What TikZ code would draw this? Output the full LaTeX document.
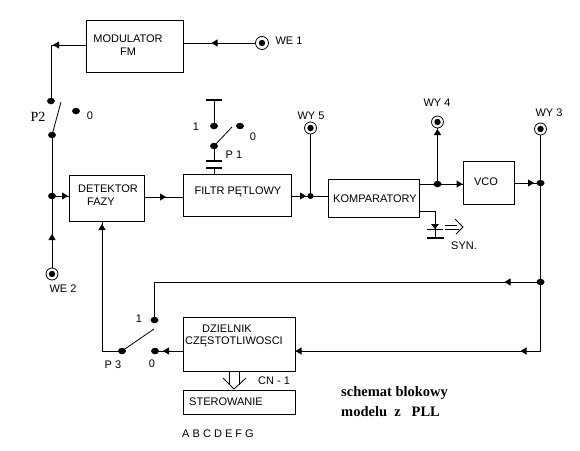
\documentclass[tikz,border=0pt]{standalone}
\usepackage{fontspec}
\setmainfont{Liberation Sans}
\newfontfamily\serifbold{Liberation Serif}[Scale=1]
\usetikzlibrary{arrows.meta,decorations.markings,shapes.geometric,calc}
\tikzset{
  wire/.style={line width=1pt,line cap=butt},
  thinw/.style={line width=0.8pt},
  box/.style={draw,line width=1pt,rectangle,inner sep=0pt,outer sep=0pt},
  txt/.style={inner sep=0pt,font=\fontsize{11}{12}\selectfont},
  captxt/.style={inner sep=0pt,anchor=west,font=\serifbold\bfseries\fontsize{14.5}{16}\selectfont},
  dot/.style={ellipse,fill=black,inner sep=0pt,outer sep=0pt,minimum width=8pt,minimum height=6.5pt},
  jack/.style={circle,draw,line width=0.8pt,inner sep=0pt,outer sep=0pt,minimum size=12pt,
    path picture={\fill (path picture bounding box.center) circle (3.2pt);}},
  bar/.style={line width=2.2pt},
  tipat/.style={postaction={decorate,decoration={markings,
    mark=at position #1 with {\arrow{Triangle[length=6pt,width=7pt]}}}}},
}
\begin{document}
\begin{tikzpicture}[x=1pt,y=-1pt]
\useasboundingbox (0,0) rectangle (580,450);
\fill[white] (0,0) rectangle (580,450);
% boxes
\node[box,minimum width=97pt,minimum height=52pt] (mod) at (134.5,46) {};
\node[box,minimum width=75pt,minimum height=46pt] (det) at (106.5,198) {};
\node[box,minimum width=108pt,minimum height=42pt] (fil) at (237,195) {};
\node[box,minimum width=91pt,minimum height=38pt] (kom) at (373.5,198) {};
\node[box,minimum width=51pt,minimum height=43pt] (vco) at (488.5,182.5) {};
\node[box,minimum width=112pt,minimum height=54pt] (dzi) at (239,344) {};
\node[box,minimum width=112pt,minimum height=24pt] (ste) at (239,402) {};
% box texts
\node[txt] (tmod1) at (128,39) {MODULATOR};
\node[txt] (tmod2) at (128,52) {FM};
\node[txt] (tdet1) at (108,189) {DETEKTOR};
\node[txt] (tdet2) at (101,202) {FAZY};
\node[txt] (tfil) at (238,192) {FILTR PĘTLOWY};
\node[txt] (tkom) at (375,199) {KOMPARATORY};
\node[txt] (tvco) at (486,182) {VCO};
\node[txt] (tdzi1) at (227,329) {DZIELNIK};
\node[txt] (tdzi2) at (234,342) {CZĘSTOTLIWOSCI};
\node[txt] (tste) at (226,402) {STEROWANIE};
% jacks
\node[jack,minimum size=13pt] (we1) at (262,43) {};
\node[jack] (we2) at (52,274) {};
\node[jack] (wy5) at (310.5,128) {};
\node[jack] (wy4) at (437.5,122) {};
\node[jack] (wy3) at (540.5,129) {};
% dots
\node[dot] (p2a) at (51,101) {};
\node[dot] (p2b) at (52,135) {};
\node[dot] (p2o) at (76,111) {};
\node[dot] (jdet) at (52,196) {};
\node[dot] (p1a) at (214,126) {};
\node[dot] (p1o) at (240,126) {};
\node[dot] (p1c) at (214,146) {};
\node[dot,minimum width=6pt,minimum height=6pt] (j5) at (310.5,196) {};
\node[dot] (j4) at (437.5,184) {};
\node[dot] (j3) at (540.5,183) {};
\node[dot] (j2) at (540.5,282) {};
\node[dot] (p3a) at (154.5,320) {};
\node[dot] (p3b) at (122,351) {};
\node[dot] (p3o) at (155,351) {};
% helper coordinates
\coordinate (c2) at (51,45);
\coordinate (c3) at (102,351);
\coordinate (c4) at (154.5,282);
\coordinate (c5) at (540.5,351);
\coordinate (p1top) at (214,100);
\coordinate (p1m1) at (214,161);
\coordinate (p1m2) at (214,168);
\coordinate (led0) at (435,211);
\coordinate (led1) at (435,238);
\coordinate (ledt) at (435,228);
% labels
\node[txt] (lwe1) at (289,41) {WE 1};
\node[txt] (lwe2) at (63,289) {WE 2};
\node[txt] (lwy5) at (311,116) {WY 5};
\node[txt] (lwy4) at (437,103) {WY 4};
\node[txt] (lwy3) at (549,113) {WY 3};
\node[txt] (l0a) at (90,116) {0};
\node[txt,font=\serifbold\fontsize{14}{16}\selectfont] (lp2) at (38,117) {P2};
\node[txt] (l1p1) at (196,127) {1};
\node[txt] (l0p1) at (253,137) {0};
\node[txt] (lp1) at (234,155) {P 1};
\node[txt] (lsyn) at (464,246) {SYN.};
\node[txt] (l1p3) at (139,319) {1};
\node[txt] (lp3) at (113,365) {P 3};
\node[txt] (l0p3) at (152,364) {0};
\node[txt] (lcn) at (274,381) {CN - 1};
\node[txt] (labc) at (218,434) {A B C D E F G};
\node[captxt] (cap1) at (341,393) {schemat blokowy};
\node[captxt] (cap2) at (341,412) {modelu\ \ z\ \ \ PLL};
% connectors
\draw[wire,tipat=44pt] (we1.west) -- (mod.east |- we1);
\draw[wire,tipat=33pt] (mod.west |- c2) -- (c2);
\draw[wire] (c2) -- (p2a.center);
\draw[wire] (p2b.center) -- (jdet.center);
\draw[wire,tipat=34pt] (we2.north) -- (jdet.center);
\draw[wire,tipat=16pt] (jdet.center) -- (det.west |- jdet);
\draw[wire,tipat=22pt] (det.east |- 0,197) -- (fil.west |- 0,197);
\draw[wire,tipat=15pt] (fil.east |- j5) -- (j5.center);
\draw[wire] (j5.center) -- (kom.west |- j5);
\draw[wire] (j5.center) -- (wy5.south);
\draw[wire] (kom.east |- j4) -- (j4.center);
\draw[wire,tipat=25pt] (j4.center) -- (vco.west |- j4);
\draw[wire,tipat=55pt] (j4.center) -- (wy4.south);
\draw[wire,tipat=20pt] (vco.east |- j3) -- (j3.center);
\draw[wire] (wy3.south) -- (j3.center);
\draw[wire] (j3.center) -- (j2.center);
\draw[wire] (j2.center) -- (c5);
\draw[wire,tipat=36pt] (j2.center) -- (c4);
\draw[wire] (c4) -- (p3a.center);
\draw[wire] (p3b.center) -- (c3);
\draw[wire,tipat=127pt] (c3) -- (det.south -| c3);
\draw[wire,tipat=20pt,tipat=245pt] (c5) -- (dzi.east |- c5);
\draw[wire,tipat=20pt] (dzi.west |- p3o) -- (p3o.center);
% switches
\draw[thinw] (p2b.center) -- (61,102);
\draw[thinw] (p1c.center) -- (232,127);
\draw[thinw] (p3b.center) -- (154,329);
% P1
\draw[wire] (p1top) -- (p1a.center);
\draw[wire] (p1c.center) -- (p1m1);
\draw[wire] (p1m2) -- (fil.north -| p1m2);
\draw[bar] ($(p1top)+(-8,0)$) -- ($(p1top)+(8,0)$);
\draw[bar] ($(p1m1)+(-8,0)$) -- ($(p1m1)+(8,0)$);
\draw[bar] ($(p1m2)+(-8,0)$) -- ($(p1m2)+(8,0)$);
% LED
\draw[wire] (kom.east |- led0) -- (led0) -- (led1);
\fill ($(ledt)+(0,1)$) -- ($(ledt)+(-4,-4)$) -- ($(ledt)+(4,-4)$) -- cycle;
\draw[wire] (427,229) -- (443,229);
\draw[bar] (427,238) -- (444,238);
\draw[thinw] (445,225) -- (457,225);
\draw[thinw] (445,229) -- (459,229);
\draw[thinw] (455,219) -- (463,227) -- (456,234);
% bus arrow
\draw[thinw] (229,371) -- (229,385);
\draw[thinw] (239,371) -- (239,385);
\draw[thinw] (223,378) -- (234,389) -- (246,378);
\end{tikzpicture}
\end{document}
